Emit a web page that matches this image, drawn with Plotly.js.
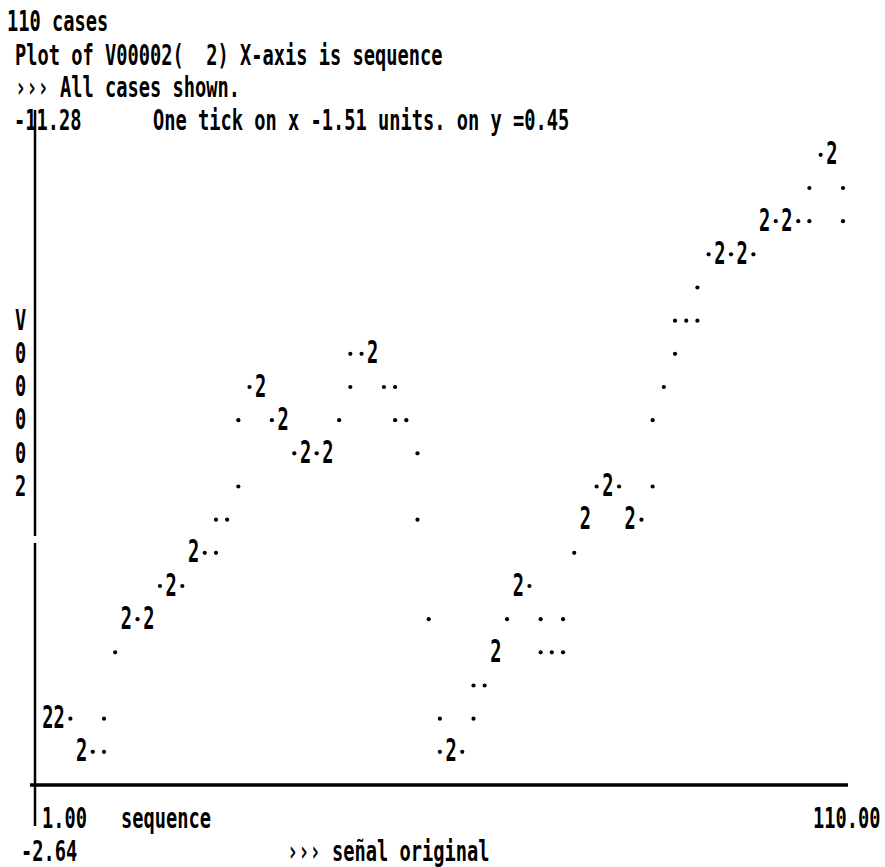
<!DOCTYPE html>
<html><head><meta charset="utf-8">
<script src="https://cdn.plot.ly/plotly-3.0.1.min.js"></script>
<style>html,body{margin:0;padding:0;background:#fff;}</style>
</head><body>
<div id="chart" style="width:885px;height:867px;"></div>
<script>
// ---- data (one entry per printed cell) ----
const sequence = [1.00,2.54,4.07,5.61,7.14,8.68,8.68,10.21,11.75,13.28,14.82,16.35,17.89,19.42,20.96,22.49,24.03,24.03,25.56,27.10,27.10,28.63,30.17,31.70,33.24,34.77,36.31,37.84,39.38,40.92,42.45,42.45,43.99,45.52,47.06,48.59,48.59,50.13,51.66,51.66,53.20,54.73,54.73,56.27,57.80,59.34,59.34,60.87,62.41,63.94,65.48,67.01,68.55,68.55,70.08,71.62,71.62,73.15,74.69,76.22,77.76,79.30,80.83,82.37,83.90,83.90,85.44,86.97,86.97,88.51,90.04,90.04,91.58,93.11,94.65,96.18,97.72,99.25,100.79,102.32,103.86,105.39,105.39,106.93,108.46,110.00,110.00];
const signal = [-3.54,-3.54,-3.54,-3.09,-3.09,-3.09,-3.54,-4.44,-4.89,-4.89,-4.89,-5.34,-5.34,-5.34,-5.79,-5.79,-5.79,-6.24,-6.24,-6.69,-7.59,-8.04,-8.04,-7.59,-7.59,-7.14,-7.14,-7.14,-7.14,-7.59,-8.04,-8.49,-8.49,-8.49,-8.04,-8.04,-7.59,-7.59,-7.14,-6.24,-4.89,-3.54,-3.09,-3.09,-3.09,-3.54,-3.99,-3.99,-4.44,-4.89,-5.34,-5.34,-4.44,-4.89,-4.44,-4.44,-4.89,-5.79,-6.24,-6.69,-6.69,-6.69,-6.24,-6.24,-6.69,-7.59,-8.04,-8.49,-8.94,-8.94,-8.94,-9.39,-9.84,-9.84,-9.84,-9.84,-9.84,-10.29,-10.29,-10.29,-10.29,-10.29,-10.74,-11.19,-11.19,-10.29,-10.74];
const casesInCell = [2,2,1,2,1,1,1,1,2,1,2,1,2,1,2,1,1,1,1,1,1,1,2,1,2,1,2,1,2,1,1,1,1,2,1,1,1,1,1,1,1,1,1,2,1,1,1,1,2,1,2,1,1,1,1,1,1,1,2,1,2,1,2,1,1,1,1,1,1,1,1,1,1,2,1,2,1,2,1,2,1,1,1,1,2,1,1];
const xTickLabels = ['1.00', '110.00'];
const yTickLabels = ['-11.28', '-2.64'];
const yAxisLetters = ['V','0','0','0','0','2'];
const headerLines = ['110 cases', 'Plot of V00002(\u00a0\u00a02) X-axis is sequence', '\u203a\u203a\u203a All cases shown.'];
const scaleNote = 'One tick on x -1.51 units. on y =0.45';
const xAxisName = 'sequence';
const footNote = '\u203a\u203a\u203a se\u00f1al original';

// ---- layout (pixels) ----
const W = 885, H = 867, L = 35, R = 848, T = 90, B = 785;
const px = x => (x - L) / (R - L);
const py = y => (B - y) / (B - T);
const FONT = '"DejaVu Sans Mono", "Liberation Mono", monospace';
const FS = 18.7;          // 11.2 px character pitch, like the printout
const STRETCH_TEXT = 1.5; // printout glyphs are tall and narrow
const STRETCH_MARK = 1.75;

const ones = {x: [], y: []}, twos = {x: [], y: []};
for (let i = 0; i < sequence.length; i++) {
  const tgt = casesInCell[i] === 2 ? twos : ones;
  tgt.x.push(sequence[i]); tgt.y.push(signal[i]);
}

const traces = [
  {type: 'scatter', mode: 'markers', x: ones.x, y: ones.y, hoverinfo: 'skip',
   marker: {size: 4.2, color: '#000'}, cliponaxis: false},
  {type: 'scatter', mode: 'text', x: twos.x, y: twos.y, text: twos.x.map(() => '2'),
   textposition: 'middle center', hoverinfo: 'skip', cliponaxis: false,
   textfont: {family: FONT, size: FS, color: '#000', weight: 'bold'}}
];

function ann(text, x, y, xanchor) {
  return {text: text, x: px(x), y: py(y), xref: 'paper', yref: 'paper', showarrow: false,
    borderpad: 0, xanchor: xanchor, yanchor: 'middle',
    font: {family: FONT, size: FS, color: '#000', weight: 'bold'}};
}

const annotations = [
  ann(headerLines[0], 6, 22, 'left'),
  ann(headerLines[1], 14, 55, 'left'),
  ann(headerLines[2], 14, 88, 'left'),
  ann(yTickLabels[0], 13, 121, 'left'),
  ann(scaleNote, 152, 121, 'left'),
  ann(xTickLabels[0], 41, 818, 'left'),
  ann(xAxisName, 120, 818, 'left'),
  ann(xTickLabels[1], 882, 818, 'right'),
  ann(yTickLabels[1], 20, 851, 'left'),
  ann(footNote, 286, 851, 'left')
];
yAxisLetters.forEach((c, i) => {
  annotations.push(ann(c, 20, 320 + i * 33.3, 'center'));
});

const line = {color: '#000', width: 2.5};
const shapes = [
  {type: 'line', xref: 'paper', yref: 'paper', x0: px(30), x1: px(848), y0: py(785), y1: py(785), line: {color: '#000', width: 3.5}},
  {type: 'line', xref: 'paper', yref: 'paper', x0: px(35), x1: px(35), y0: py(110), y1: py(536), line: line},
  {type: 'line', xref: 'paper', yref: 'paper', x0: px(35), x1: px(35), y0: py(543), y1: py(826), line: line}
];

const layout = {
  width: W, height: H,
  margin: {l: L, r: W - R, t: T, b: H - B, pad: 0},
  paper_bgcolor: '#fff', plot_bgcolor: '#fff',
  showlegend: false,
  xaxis: {range: [-0.782, 110.686], showgrid: false, zeroline: false, showline: false, showticklabels: false, ticks: ''},
  yaxis: {range: [-2.64, -12.07], showgrid: false, zeroline: false, showline: false, showticklabels: false, ticks: ''},
  annotations: annotations,
  shapes: shapes
};

function stretch(gd) {
  const apply = (sel, s) => gd.querySelectorAll(sel).forEach(t => {
    const bb = t.getBBox();
    const cy = bb.y + bb.height / 2;
    const prev = t.getAttribute('transform') || '';
    t.setAttribute('transform', prev + ' translate(0,' + cy + ') scale(1,' + s + ') translate(0,' + (-cy) + ')');
  });
  apply('text.annotation-text', STRETCH_TEXT);
  apply('.textpoint text', STRETCH_MARK);
}

Plotly.newPlot('chart', traces, layout, {staticPlot: true, displayModeBar: false}).then(stretch);
</script>
</body></html>
